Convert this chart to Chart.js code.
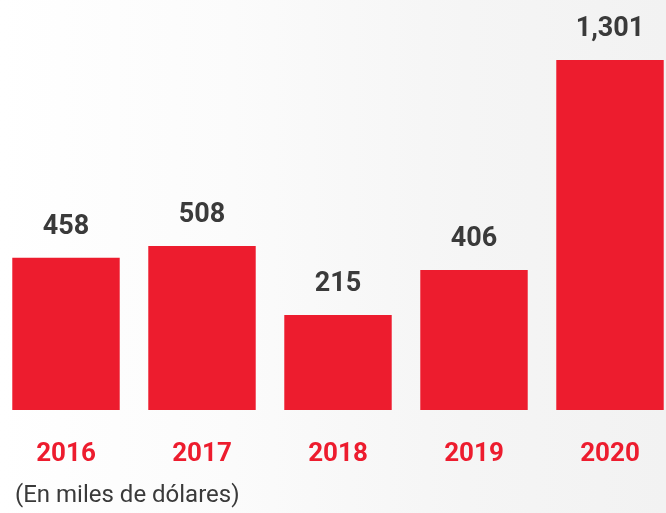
<!DOCTYPE html>
<html>
<head>
<meta charset="utf-8">
<script src="https://cdn.jsdelivr.net/npm/chart.js@4.4.1/dist/chart.umd.min.js"></script>
<style>
  html, body { margin: 0; padding: 0; width: 666px; height: 513px; overflow: hidden;
    background: linear-gradient(90deg, #ffffff 0%, #fbfbfb 35%, #f5f5f5 70%, #f2f2f2 100%); }
  #wrap { position: absolute; left: -2px; top: 0; width: 680px; height: 513px; }
  #note { position: absolute; left: 15px; top: 480px; font-family: Roboto, sans-serif;
    font-size: 24px; color: #3a3a3a; white-space: nowrap; }
</style>
</head>
<body>
<div id="wrap"><canvas id="c" width="680" height="513"></canvas></div>
<div id="note">(En miles de dólares)</div>
<script>
const years = ['2016', '2017', '2018', '2019', '2020'];
const values = [458, 508, 215, 406, 1301];
const valueLabels = ['458', '508', '215', '406', '1,301'];

const RED = '#ed1c2e';
const DARK = '#3a3a3a';

const labelPlugin = {
  id: 'labels',
  afterDatasetsDraw(chart) {
    const ctx = chart.ctx;
    const meta = chart.getDatasetMeta(0);
    ctx.save();
    ctx.textAlign = 'center';
    ctx.textBaseline = 'alphabetic';
    meta.data.forEach((bar, i) => {
      ctx.fillStyle = DARK;
      ctx.font = 'bold 27px Roboto, sans-serif';
      ctx.fillText(valueLabels[i], bar.x, bar.y - 24);
      ctx.fillStyle = RED;
      ctx.font = 'bold 26px Roboto, sans-serif';
      ctx.fillText(years[i], bar.x, chart.chartArea.bottom + 51);
    });
    ctx.restore();
  }
};

new Chart(document.getElementById('c'), {
  type: 'bar',
  data: {
    labels: years,
    datasets: [{
      data: values,
      backgroundColor: RED,
      borderWidth: 0,
      base: -190,
      barPercentage: 0.79,
      categoryPercentage: 1.0
    }]
  },
  options: {
    responsive: false,
    animation: false,
    layout: { padding: { top: 0, bottom: 103, left: 0, right: 0 } },
    plugins: { legend: { display: false }, tooltip: { enabled: false } },
    scales: {
      x: { display: false },
      y: { display: false, min: -190, max: 1556 }
    }
  },
  plugins: [labelPlugin]
});
</script>
</body>
</html>
